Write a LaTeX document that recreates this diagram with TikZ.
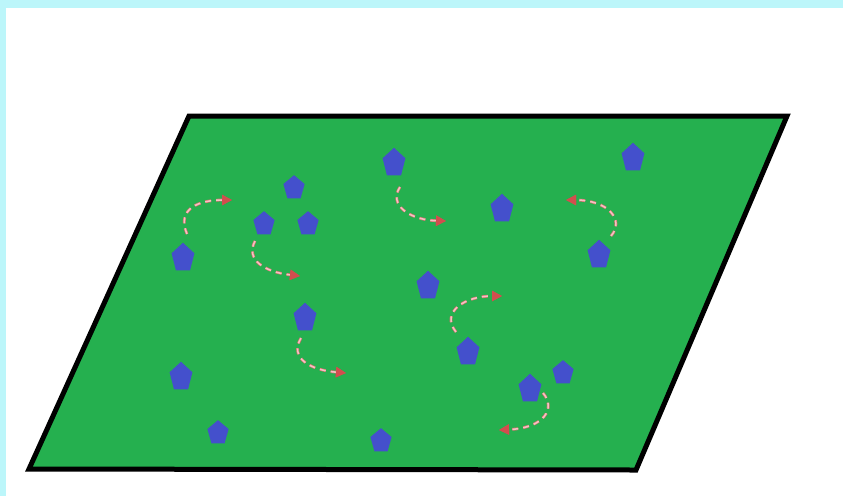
\documentclass[tikz,border=0pt]{standalone}
\usepackage{tikz}
\usetikzlibrary{arrows.meta,shapes.geometric}
\definecolor{framecyan}{HTML}{BCF6FA}
\definecolor{boardgreen}{HTML}{25B04F}
\definecolor{pieceblue}{HTML}{4450CC}
\definecolor{movered}{HTML}{D24E4E}
\definecolor{movepink}{HTML}{F4C4C4}
\tikzset{
  bigpiece/.style={regular polygon,regular polygon sides=5,fill=pieceblue,inner sep=0pt,minimum size=0.72cm,yscale=1.27},
  smallpiece/.style={regular polygon,regular polygon sides=5,fill=pieceblue,inner sep=0pt,minimum size=0.67cm,yscale=1.15},
  move/.style={movepink,line width=1.3pt,dash pattern=on 0.18cm off 0.15cm,
    preaction={draw=movered!80,line width=2.4pt,dash pattern=on 0.18cm off 0.15cm},
    -{Triangle[length=0.3cm,width=0.3cm,color=movered]}}
}

\begin{document}
\begin{tikzpicture}[x=0.03cm,y=-0.03cm]
  \useasboundingbox (0,0) rectangle (843,496);
  \fill[framecyan] (0,0) rectangle (843,496);
  \fill[white] (6,8) rectangle (843,496);
  % board
  \coordinate (tl) at (189,116);
  \coordinate (tr) at (787,116);
  \coordinate (br) at (636,470);
  \coordinate (bl) at (29,469);
  \draw[fill=boardgreen,line width=0.15cm] (tl)--(tr)--(br)--(bl)--cycle;
  % pieces
  \foreach \n/\x/\y in {1/394/163,3/633/158,4/502/209,7/183/258,8/599/255,9/428/286,10/305/318,11/468/352,12/181/377,14/530/389}
    \node[bigpiece] (p\n) at (\x,\y) {};
  \foreach \n/\x/\y in {2/294/188,5/264/224,6/308/224,13/563/373,15/218/433,16/381/441}
    \node[smallpiece] (p\n) at (\x,\y) {};
  % moves
  \coordinate (a1) at (187,234); \coordinate (b1) at (232,200);
  \coordinate (a2) at (255,241); \coordinate (b2) at (300,276);
  \coordinate (a3) at (400,187); \coordinate (b3) at (446,221);
  \coordinate (a4) at (456,332); \coordinate (b4) at (502,296);
  \coordinate (a5) at (301,338); \coordinate (b5) at (346,373);
  \coordinate (a6) at (543,393); \coordinate (b6) at (499,430);
  \coordinate (a7) at (611,236); \coordinate (b7) at (566,200);
  \draw[move] (a1) .. controls (176,208) and (200,200) .. (b1);
  \draw[move] (a2) .. controls (245,260) and (265,272) .. (b2);
  \draw[move] (a3) .. controls (388,205) and (410,220) .. (b3);
  \draw[move] (a4) .. controls (440,312) and (465,296) .. (b4);
  \draw[move] (a5) .. controls (289,358) and (310,370) .. (b5);
  \draw[move] (a6) .. controls (556,408) and (545,428) .. (b6);
  \draw[move] (a7) .. controls (625,220) and (608,200) .. (b7);
\end{tikzpicture}
\end{document}
